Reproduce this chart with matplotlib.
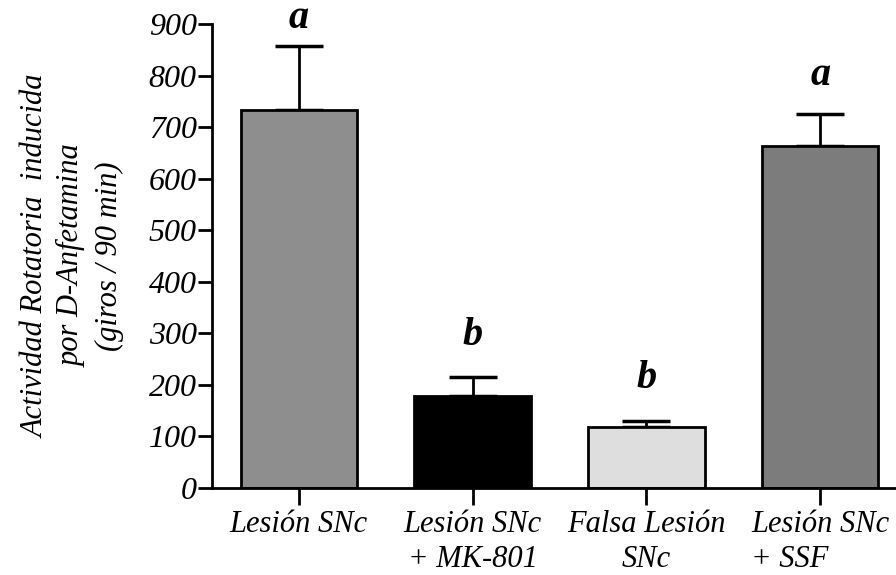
import numpy as np
import matplotlib.pyplot as plt

groups = ['Lesión SNc', 'Lesión SNc\n+ MK-801', 'Falsa Lesión\nSNc', 'Lesión SNc\n+ SSF']
means = [733, 178, 118, 663]
errors = [125, 38, 12, 63]
letters = ['a', 'b', 'b', 'a']
letter_y = [892, 277, 194, 782]
colors = ['#8e8e8e', '#000000', '#dedede', '#7c7c7c']

plt.rcParams['font.family'] = 'serif'
plt.rcParams['font.serif'] = ['Liberation Serif', 'DejaVu Serif']
plt.rcParams['font.style'] = 'italic'

fig = plt.figure(figsize=(8.96, 5.75), dpi=100)
ax = fig.add_axes([212/896, 1 - 488/575, 695/896, 464/575])

x = np.arange(len(groups))
ax.bar(x, means, width=0.67, color=colors, edgecolor='black', linewidth=2, zorder=2)
ax.errorbar(x, means, yerr=[np.zeros(4), errors], fmt='none', ecolor='black',
            elinewidth=2, capsize=17, capthick=2.5, zorder=1)
for xi, l, ly in zip(x, letters, letter_y):
    ax.text(xi, ly, l, ha='center', va='baseline', fontsize=29, fontweight='bold', style='italic')

ax.set_xlim(-0.5, 3.5)
ax.set_ylim(0, 900)
ax.set_yticks(range(0, 901, 100))
ax.set_xticks(x)
ax.set_xticklabels(groups, fontsize=22, linespacing=1.25)
labs = ax.get_xticklabels()
labs[3].set_multialignment('left')
ax.tick_params(axis='y', labelsize=23, width=2, length=10, pad=1)
ax.tick_params(axis='x', width=2, length=12, pad=4)
for s in ['top', 'right']:
    ax.spines[s].set_visible(False)
for s in ['left', 'bottom']:
    ax.spines[s].set_linewidth(2)

ax.set_ylabel('Actividad Rotatoria  inducida\npor D-Anfetamina\n(giros / 90 min)', fontsize=22,
              linespacing=1.35, labelpad=18)

fig.savefig('out.png', dpi=100)
